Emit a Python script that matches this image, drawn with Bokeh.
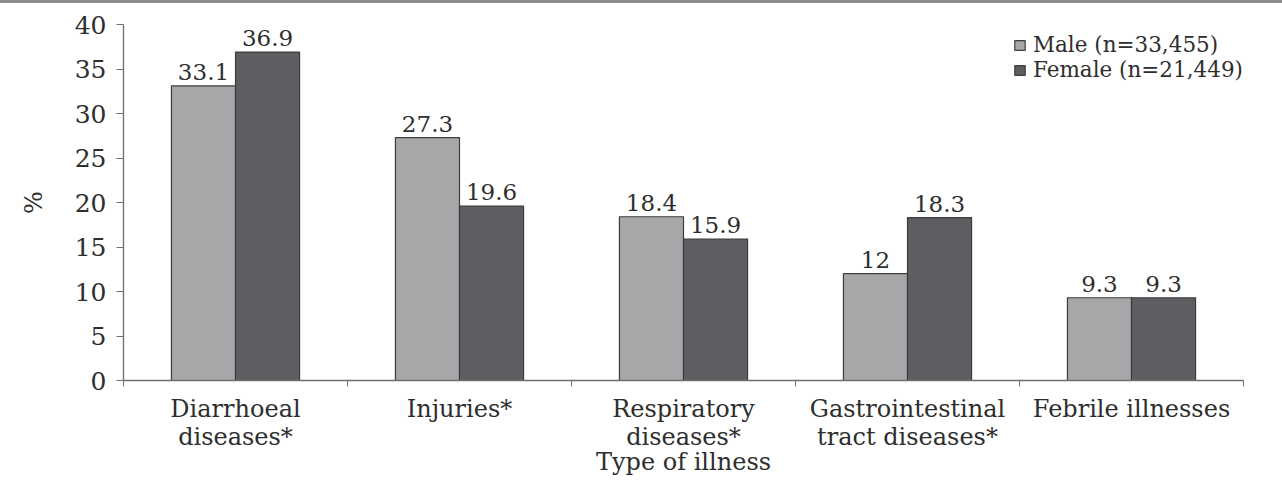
from bokeh.plotting import figure
from bokeh.models import (ColumnDataSource, FixedTicker, Range1d, Div,
                          Legend, LegendItem)
from bokeh.layouts import column
from bokeh.core.properties import value
from bokeh.embed import file_html
from bokeh.resources import INLINE

# Share of reported illness by type, by sex (%)
categories = ["Diarrhoeal\ndiseases*", "Injuries*", "Respiratory\ndiseases*",
              "Gastrointestinal\ntract diseases*", "Febrile illnesses"]
male = [33.1, 27.3, 18.4, 12, 9.3]
female = [36.9, 19.6, 15.9, 18.3, 9.3]
y_ticks = [0, 5, 10, 15, 20, 25, 30, 35, 40]
series_names = ["Male (n=33,455)", "Female (n=21,449)"]

FONT = "DejaVu Serif"
TEXT = "#2e2e2e"
AXIS = "#6e6e6e"
MALE_FILL = "#a7a7aa"
FEMALE_FILL = "#5e5e62"
EDGE = "#3c3c3c"

BAR_W = 0.286
centers = [i + 0.5 for i in range(len(categories))]
male_x = [c - BAR_W / 2 for c in centers]
female_x = [c + BAR_W / 2 for c in centers]

src_m = ColumnDataSource(dict(x=male_x, top=male,
                              lab=[f"{v:g}" for v in male]))
src_f = ColumnDataSource(dict(x=female_x, top=female,
                              lab=[f"{v:g}" for v in female]))

FRAME_H = 356
p = figure(width=1282, height=483, output_backend="svg", toolbar_location=None,
           x_range=Range1d(0, len(categories)), y_range=Range1d(0, 40),
           min_border_left=123, min_border_right=39, min_border_top=21,
           min_border_bottom=106)
p.outline_line_color = None
p.grid.grid_line_color = None
p.background_fill_color = "white"
p.border_fill_color = "white"

r_m = p.vbar(x="x", top="top", width=BAR_W, source=src_m,
             fill_color=MALE_FILL, line_color=EDGE, line_width=1.2)
r_f = p.vbar(x="x", top="top", width=BAR_W, source=src_f,
             fill_color=FEMALE_FILL, line_color=EDGE, line_width=1.2)

for src in (src_m, src_f):
    p.text(x="x", y="top", text="lab", source=src, text_align="center",
           text_baseline="bottom", y_offset=-6,
           text_font=value(FONT), text_font_size="23px", text_color=TEXT)

# x axis: labels at group centres, ticks at group boundaries
xa = p.xaxis[0]
xa.ticker = FixedTicker(ticks=centers,
                        minor_ticks=list(range(len(categories) + 1)))
xa.major_label_overrides = {c: lab for c, lab in zip(centers, categories)}
xa.major_tick_line_color = None
xa.minor_tick_in = 0
xa.minor_tick_out = 6
xa.minor_tick_line_color = AXIS
xa.axis_line_color = AXIS
xa.axis_line_width = 1.3
xa.major_label_standoff = 8
xa.major_label_text_font = FONT
xa.major_label_text_font_size = "24px"
xa.major_label_text_line_height = 1.0
xa.major_label_text_color = TEXT
xa.axis_label = "Type of illness"
xa.axis_label_text_font = FONT
xa.axis_label_text_font_size = "24px"
xa.axis_label_text_font_style = "normal"
xa.axis_label_text_color = TEXT
xa.axis_label_standoff = -6

ya = p.yaxis[0]
ya.ticker = FixedTicker(ticks=y_ticks, minor_ticks=[])
ya.major_tick_in = 0
ya.major_tick_out = 7
ya.major_tick_line_color = AXIS
ya.axis_line_color = AXIS
ya.axis_line_width = 1.3
ya.major_label_standoff = 10
ya.major_label_text_font = FONT
ya.major_label_text_font_size = "25px"
ya.major_label_text_color = TEXT
ya.axis_label = "%"
ya.axis_label_text_font = FONT
ya.axis_label_text_font_size = "24px"
ya.axis_label_text_font_style = "normal"
ya.axis_label_text_color = TEXT
ya.axis_label_standoff = 24

# legend placed by its bottom-left corner, in frame pixels
legend = Legend(items=[LegendItem(label=series_names[0], renderers=[r_m]),
                       LegendItem(label=series_names[1], renderers=[r_f])],
                location=(890, FRAME_H - 58))
legend.margin = 0
legend.padding = 0
legend.spacing = 0
legend.glyph_width = 13
legend.glyph_height = 12
legend.label_height = 25
legend.label_standoff = 7
legend.label_text_font = FONT
legend.label_text_font_size = "21.5px"
legend.label_text_color = TEXT
legend.border_line_color = None
legend.background_fill_alpha = 0
p.add_layout(legend)

rule = Div(text="", width=1282, height=3, margin=0,
           styles={"background-color": "#8d8d8d"})

page = column(rule, p, spacing=0)
open("out.html", "w").write(file_html(page, INLINE))
